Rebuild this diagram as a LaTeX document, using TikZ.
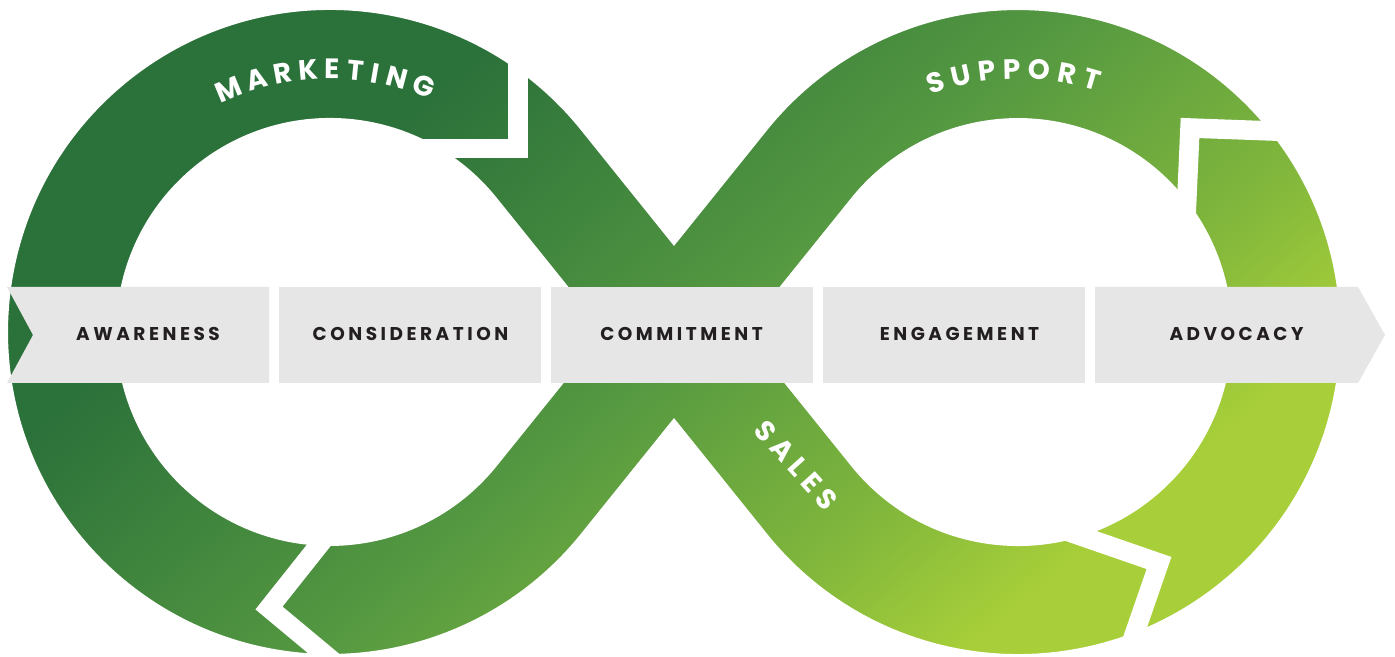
\documentclass[tikz,border=0pt]{standalone}
\usepackage{fontspec}
\setmainfont{Poppins}
\newfontfamily\barfont{Poppins}[LetterSpace=19]
\newfontfamily\salesfont{Poppins}[LetterSpace=22]
\definecolor{gA}{RGB}{43,113,58}
\definecolor{gB}{RGB}{84,152,65}
\definecolor{gM}{RGB}{128,182,60}
\definecolor{gC}{RGB}{168,207,57}
\definecolor{barbg}{RGB}{230,230,230}
\definecolor{ink}{RGB}{35,31,32}
\pgfdeclarehorizontalshading{bandshade}{100bp}{color(0bp)=(gA); color(37.5bp)=(gA); color(47.2bp)=(gB); color(54.2bp)=(gM); color(58.9bp)=(gC); color(100bp)=(gC)}
\tikzset{
  gapline/.style={white, line width=19.5pt, line join=miter, miter limit=10},
  barshape/.style={fill=barbg, draw=none},
  barlabel/.style={font=\barfont\bfseries\fontsize{18.5}{20}\selectfont, text=ink, inner sep=0pt},
  looplabel/.style={font=\bfseries\fontsize{28}{30}\selectfont, text=white, inner sep=0pt, anchor=base},
  saleslabel/.style={font=\salesfont\bfseries\fontsize{28}{30}\selectfont, text=white, inner sep=0pt},
}
\begin{document}
\begin{tikzpicture}[x=1pt,y=1pt]
\useasboundingbox (0,0) rectangle (1395,656);
% gradient
\begin{scope}
  \clip (0,0) rectangle (1395,656);
  \begin{scope}[transform canvas={rotate around={-50:(700,330)}}]
    \shade[shading=bandshade] (-100,-570) rectangle (1700,1230);
  \end{scope}
\end{scope}
% white outside of the band
\fill[white, even odd rule] (-10,-10) rectangle (1405,666)
  (674,410.1) -- (580.9,525.9) arc[start angle=38.82, end angle=321.18, radius=322pt]
  -- (674,237.9) -- (767.1,122.1) arc[start angle=218.82, end angle=501.18, radius=322pt] -- cycle;
% holes
\fill[white] (496.7,458.2) arc[start angle=38.82, end angle=321.18, radius=214pt] -- (604.7,324) -- cycle;
\fill[white] (851.3,189.8) arc[start angle=218.82, end angle=501.18, radius=214pt] -- (743.3,324) -- cycle;
% chevron gaps
\draw[gapline] (518,616) -- (518,507.5) -- (400,507.5);
\draw[gapline] (1300,524) -- (1190,528) -- (1185,416);
\draw[gapline] (1055,129) -- (1159,93) -- (1123,-11);
\draw[gapline] (350,150) -- (269,48) -- (353,-22);
% bar
\fill[barshape] (7,369) -- (269,369) -- (269,273) -- (7,273) -- (33,321) -- cycle;
\fill[barshape] (279,273) rectangle (541,369);
\fill[barshape] (551,273) rectangle (813,369);
\fill[barshape] (823,273) rectangle (1085,369);
\fill[barshape] (1095,273) -- (1095,369) -- (1358,369) -- (1385,321) -- (1358,273) -- cycle;
\node[barlabel] (aw) at (148,322) {AWARENESS};
\node[barlabel] (co) at (410.5,322) {CONSIDERATION};
\node[barlabel] (cm) at (681.5,322) {COMMITMENT};
\node[barlabel] (en) at (959.5,322) {ENGAGEMENT};
\node[barlabel] (ad) at (1236.5,322) {ADVOCACY};
% curved labels
\begin{scope}[shift={(330,324)}]
\foreach \ch/\a [count=\i] in {M/112.64, A/106.2, R/100.41, K/94.81, E/89.49, T/84.35, I/80.03, N/75.23, G/69.03}
  \node[looplabel, rotate=\a-90] (mk\i) at (\a:253pt) {\ch};
\end{scope}
\begin{scope}[shift={(1018,324)}]
\foreach \ch/\a [count=\i] in {S/108.31, U/102.61, P/96.82, P/91.27, O/85.25, R/79.16, T/73.65}
  \node[looplabel, rotate=\a-90] (sp\i) at (\a:253pt) {\ch};
\end{scope}
\node[saleslabel, rotate=-48] (sales) at (796,191) {SALES};
\end{tikzpicture}
\end{document}
